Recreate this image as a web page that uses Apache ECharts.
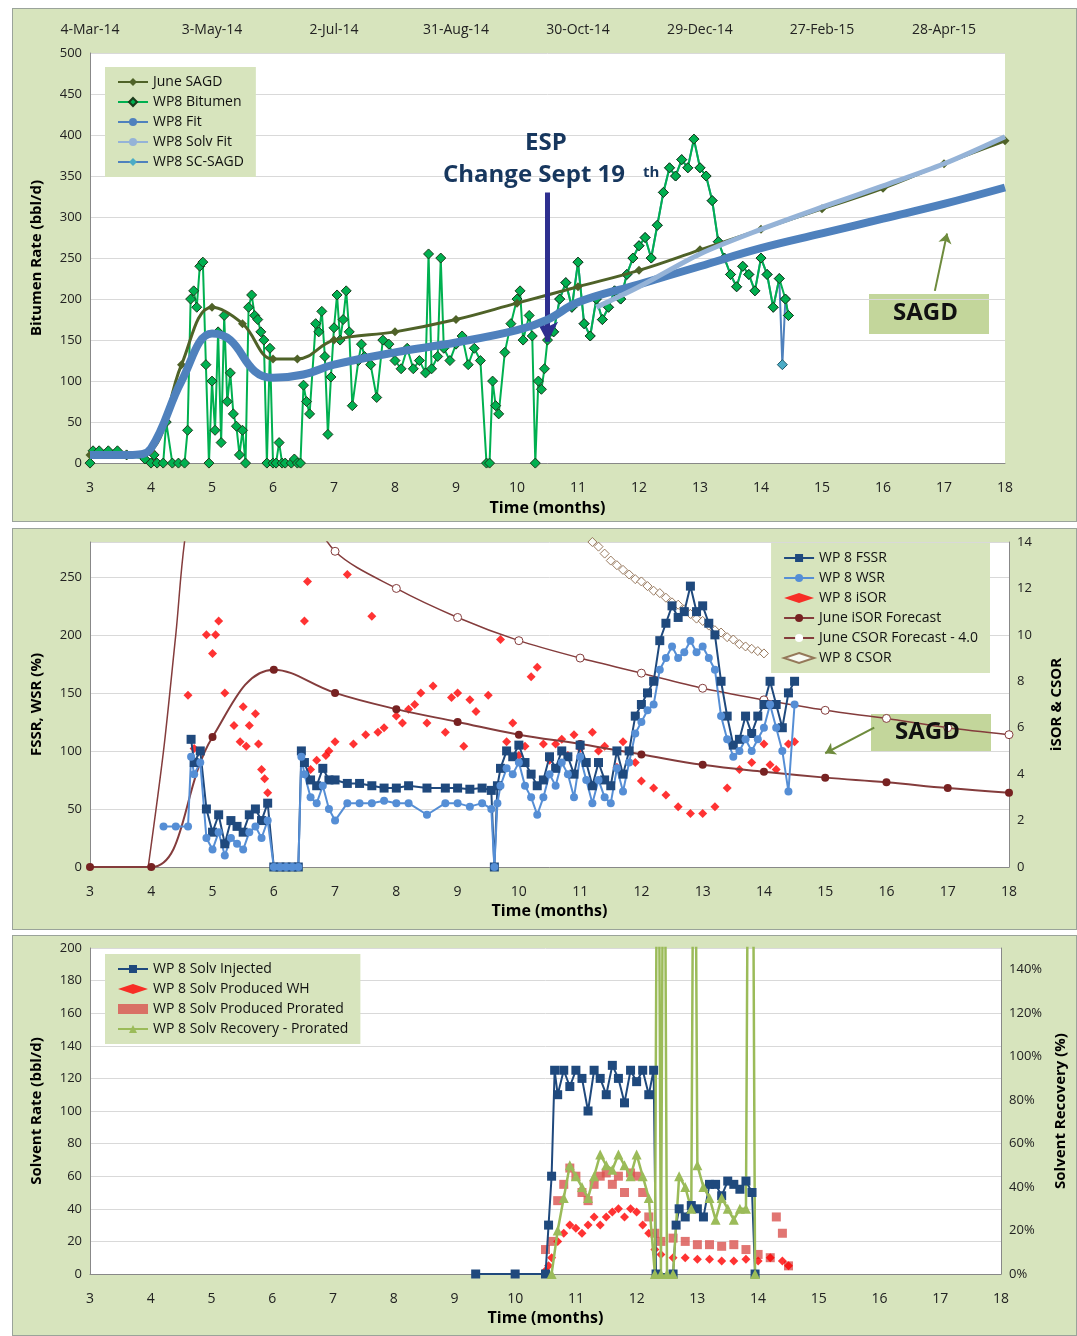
<!DOCTYPE html>
<html lang="en">
<head>
<meta charset="UTF-8">
<title>WP8</title>
<script src="https://cdn.jsdelivr.net/npm/echarts@6/dist/echarts.min.js"></script>
<style>
body{margin:0;background:#fff;width:1077px;height:1336px;position:relative;overflow:hidden;font-family:"Open Sans",Arial,sans-serif}
.p{position:absolute;left:12px;width:1065px;background:#d7e4bd;border:1px solid #9aa39a;box-sizing:border-box}
</style>
</head>
<body>
<div id="c1" class="p" style="top:8px;height:514px"></div>
<div id="c2" class="p" style="top:528px;height:402px"></div>
<div id="c3" class="p" style="top:935px;height:401px"></div>
<script>
var topDates = {3:'4-Mar-14',5:'3-May-14',7:'2-Jul-14',9:'31-Aug-14',11:'30-Oct-14',13:'29-Dec-14',15:'27-Feb-15',17:'28-Apr-15'};

// ---- panel 1 ----
var juneSagd = [[3,10],[3.6,10],[4,15],[4.5,120],[5,190],[5.5,170],[6,127],[6.4,127],[7,150],[8,160],[9,175],[10,195],[11,215],[12,235],[13,260],[14,285],[15,310],[16,335],[17,365],[18,393]];
var wp8Fit = [[3,10],[3.7,10],[4,18],[4.5,100],[5,158],[5.3,150],[5.7,112],[6,104],[6.5,108],[7,120],[8,135],[9,147],[10,162],[10.5,175],[11,196],[12,218],[13,240],[14,262],[15,280],[16,298],[17,316],[18,336]];
var wp8SolvFit = [[11.3,190],[12,215],[13,255],[14,285],[15,312],[16,338],[17,365],[18,398]];
var wp8Bitumen = [[3,0],[3.05,15],[3.15,15],[3.3,15],[3.45,15],[3.6,10],[3.9,5],[4,0],[4.05,10],[4.1,0],[4.2,0],[4.25,50],[4.35,0],[4.45,0],[4.55,0],[4.6,40],[4.65,200],[4.7,210],[4.75,190],[4.8,240],[4.85,245],[4.9,120],[4.95,0],[5,100],[5.05,40],[5.1,160],[5.15,25],[5.2,180],[5.25,75],[5.3,110],[5.35,60],[5.4,45],[5.45,10],[5.5,40],[5.55,0],[5.6,190],[5.65,205],[5.7,180],[5.75,175],[5.8,160],[5.85,150],[5.9,0],[5.95,140],[6,0],[6.05,0],[6.1,25],[6.15,0],[6.2,0],[6.3,0],[6.35,5],[6.4,0],[6.45,0],[6.5,95],[6.55,75],[6.6,60],[6.7,170],[6.75,160],[6.8,185],[6.85,130],[6.9,35],[6.95,105],[7,165],[7.05,205],[7.1,150],[7.15,175],[7.2,210],[7.25,160],[7.3,70],[7.4,125],[7.45,145],[7.5,130],[7.6,120],[7.7,80],[7.8,150],[7.9,145],[8,125],[8.1,115],[8.2,140],[8.3,115],[8.4,125],[8.5,110],[8.55,255],[8.6,115],[8.7,130],[8.75,250],[8.8,140],[8.9,125],[9,145],[9.1,155],[9.2,120],[9.3,140],[9.4,125],[9.5,0],[9.55,0],[9.6,100],[9.65,70],[9.7,60],[9.8,135],[9.9,170],[10,200],[10.05,210],[10.1,150],[10.2,180],[10.25,155],[10.3,0],[10.35,100],[10.4,90],[10.45,115],[10.5,150]];
var wp8ScSagd = [[10.6,160],[10.7,200],[10.8,220],[10.9,190],[11,245],[11.1,170],[11.2,155],[11.3,200],[11.4,175],[11.5,190],[11.6,210],[11.7,200],[11.8,230],[11.9,250],[12,265],[12.1,275],[12.2,250],[12.3,290],[12.4,330],[12.5,360],[12.6,350],[12.7,370],[12.8,360],[12.9,395],[13,360],[13.1,350],[13.2,320],[13.3,270],[13.4,250],[13.5,230],[13.6,215],[13.7,240],[13.8,230],[13.9,210],[14,250],[14.1,230],[14.2,190],[14.3,225],[14.35,120],[14.4,200],[14.45,180]];

// ---- panel 2 ----
var fssr = [[4.65,110],[4.7,90],[4.8,100],[4.9,50],[5,30],[5.1,45],[5.2,20],[5.3,40],[5.4,35],[5.5,30],[5.6,45],[5.7,50],[5.8,40],[5.9,55],[6,0],[6.1,0],[6.2,0],[6.3,0],[6.4,0],[6.45,100],[6.5,90],[6.6,75],[6.7,70],[6.8,85],[6.9,75],[7,75],[7.2,72],[7.4,72],[7.6,70],[7.8,68],[8,68],[8.2,70],[8.5,68],[8.8,68],[9,68],[9.2,67],[9.4,68],[9.55,66],[9.6,0],[9.65,70],[9.7,85],[9.8,100],[9.9,95],[10,105],[10.1,90],[10.2,80],[10.3,70],[10.4,75],[10.5,95],[10.6,85],[10.7,100],[10.8,95],[10.9,80],[11,105],[11.1,90],[11.2,70],[11.3,90],[11.4,75],[11.5,70],[11.6,100],[11.7,80],[11.8,100],[11.9,130],[12,140],[12.1,150],[12.2,160],[12.3,195],[12.4,210],[12.5,225],[12.6,215],[12.7,220],[12.8,242],[12.9,220],[13,225],[13.1,210],[13.2,200],[13.3,160],[13.4,130],[13.5,105],[13.6,110],[13.7,130],[13.8,115],[13.9,130],[14,140],[14.1,160],[14.2,140],[14.3,120],[14.4,150],[14.5,160]];
var wsr = [[4.2,35],[4.4,35],[4.6,35],[4.65,95],[4.7,80],[4.8,90],[4.9,25],[5,15],[5.1,30],[5.2,10],[5.3,25],[5.4,20],[5.5,15],[5.6,30],[5.7,35],[5.8,25],[5.9,40],[6,0],[6.1,0],[6.2,0],[6.3,0],[6.4,0],[6.45,95],[6.5,80],[6.6,60],[6.7,55],[6.8,70],[6.9,50],[7,40],[7.2,55],[7.4,55],[7.6,55],[7.8,57],[8,55],[8.2,55],[8.5,45],[8.8,55],[9,55],[9.2,52],[9.4,55],[9.55,50],[9.6,0],[9.65,55],[9.7,70],[9.8,85],[9.9,80],[10,90],[10.1,70],[10.2,60],[10.3,45],[10.4,60],[10.5,80],[10.6,70],[10.7,90],[10.8,80],[10.9,60],[11,95],[11.1,75],[11.2,55],[11.3,75],[11.4,60],[11.5,55],[11.6,85],[11.7,65],[11.8,90],[11.9,115],[12,125],[12.1,135],[12.2,140],[12.3,170],[12.4,180],[12.5,190],[12.6,180],[12.7,185],[12.8,195],[12.9,185],[13,190],[13.1,180],[13.2,170],[13.3,130],[13.4,110],[13.5,95],[13.6,100],[13.7,110],[13.8,100],[13.9,110],[14,120],[14.1,140],[14.2,120],[14.3,100],[14.4,65],[14.5,140]];
var isor = [[4.6,7.4],[4.7,5.1],[4.9,10],[5,9.2],[5.05,10],[5.1,10.6],[5.2,7.5],[5.35,6.1],[5.45,5.4],[5.5,6.9],[5.55,5.2],[5.6,6.1],[5.7,6.6],[5.75,5.3],[5.8,4.2],[5.85,3.8],[5.9,3.2],[6.1,0],[6.5,10.6],[6.55,12.3],[6.6,4.2],[6.7,4.6],[6.85,4.8],[6.9,5],[7,5.4],[7.2,12.6],[7.3,5.3],[7.5,5.7],[7.6,10.8],[7.7,5.8],[7.8,6],[8,6.5],[8.1,6.2],[8.2,6.8],[8.3,7],[8.4,7.5],[8.5,6.2],[8.6,7.8],[8.8,5.8],[8.9,7.3],[9,7.5],[9.1,5.2],[9.2,7.2],[9.3,6.7],[9.5,7.4],[9.7,9.8],[9.8,5.4],[9.9,6.2],[10,4.8],[10.1,5.2],[10.2,8.2],[10.3,8.6],[10.4,5.3],[10.5,4.6],[10.6,5.3],[10.7,5.5],[10.8,4.8],[10.9,5.7],[11,5.1],[11.2,5.8],[11.3,5],[11.4,5.2],[11.6,4.3],[11.7,5.4],[11.8,5],[11.9,4.5],[12,3.7],[12.2,3.4],[12.4,3.1],[12.6,2.6],[12.8,2.3],[13,2.3],[13.2,2.6],[13.4,3.4],[13.6,4.2],[13.8,4.5],[14,5.3],[14.1,4.4],[14.2,4.2],[14.4,5.3],[14.5,5.4]];
var juneIsor = [[3,0],[4,0],[5,5.6],[6,8.5],[7,7.5],[8,6.8],[9,6.25],[10,5.7],[11,5.3],[12,4.85],[13,4.4],[14,4.1],[15,3.85],[16,3.65],[17,3.4],[18,3.2]];
var juneCsor = [[3.95,0],[4.2,5],[4.4,10],[4.6,15],[5.5,25],[6.5,16],[7,13.6],[8,12],[9,10.75],[10,9.75],[11,9],[12,8.35],[13,7.7],[14,7.2],[15,6.75],[16,6.4],[17,6],[18,5.7]];
var wp8Csor = [[11.2,14],[11.3,13.8],[11.4,13.5],[11.5,13.2],[11.6,13],[11.7,12.8],[11.8,12.6],[11.9,12.4],[12,12.3],[12.1,12.1],[12.2,11.9],[12.3,11.8],[12.4,11.6],[12.5,11.4],[12.6,11.3],[12.7,11.1],[12.8,10.9],[12.9,10.7],[13,10.6],[13.1,10.4],[13.2,10.2],[13.3,10.1],[13.4,9.9],[13.5,9.8],[13.6,9.6],[13.7,9.5],[13.8,9.4],[13.9,9.3],[14,9.2]];

// ---- panel 3 ----
var solvInj = [[9.35,0],[10,0],[10.5,0],[10.55,30],[10.6,60],[10.65,125],[10.7,110],[10.8,125],[10.9,115],[11,125],[11.1,120],[11.2,100],[11.3,125],[11.4,120],[11.5,110],[11.6,128],[11.7,120],[11.8,105],[11.9,125],[12,118],[12.1,125],[12.2,110],[12.28,125],[12.32,0],[12.6,0],[12.65,30],[12.7,40],[12.8,35],[12.9,42],[13,40],[13.1,35],[13.2,55],[13.3,55],[13.4,48],[13.5,57],[13.6,55],[13.7,52],[13.8,57],[13.9,50],[13.95,0]];
var solvWh = [[10.5,2],[10.55,5],[10.6,10],[10.7,20],[10.8,25],[10.9,30],[11,28],[11.1,25],[11.2,30],[11.3,35],[11.4,30],[11.5,35],[11.6,38],[11.7,40],[11.8,35],[11.9,40],[12,38],[12.1,30],[12.2,25],[12.3,15],[12.4,12],[12.6,10],[12.8,10],[13,9],[13.2,9],[13.4,8],[13.6,8],[13.8,9],[14,8],[14.2,10],[14.4,8],[14.5,5]];
var solvPro = [[10.5,15],[10.6,20],[10.7,45],[10.8,55],[10.9,65],[11,60],[11.1,50],[11.2,45],[11.3,55],[11.4,60],[11.5,62],[11.6,55],[11.7,60],[11.8,50],[11.9,62],[12,60],[12.1,50],[12.2,35],[12.3,25],[12.4,20],[12.6,22],[12.8,20],[13,18],[13.2,18],[13.4,17],[13.6,18],[13.8,15],[14,12],[14.2,10],[14.3,35],[14.4,25],[14.5,5]];
var solvRec = [[10.6,0],[10.7,20],[10.8,35],[10.9,50],[11,45],[11.1,40],[11.2,35],[11.3,45],[11.4,55],[11.5,50],[11.6,48],[11.7,55],[11.8,50],[11.9,45],[12,55],[12.1,45],[12.2,35],[12.3,0],[12.35,300],[12.4,0],[12.45,300],[12.5,0],[12.6,0],[12.7,45],[12.8,40],[12.9,30],[12.95,300],[13,50],[13.1,40],[13.2,35],[13.3,25],[13.4,35],[13.5,30],[13.6,25],[13.7,30],[13.8,30],[13.85,300],[13.9,300],[13.95,0]];

var grey = '#d9d9d9';
var ff = '"Open Sans", sans-serif';
function xAxisBottom() {
    return {type:'value',min:3,max:18,interval:1,position:'bottom',
        name:'Time (months)',nameLocation:'middle',nameGap:34,nameTextStyle:{fontSize:16,fontWeight:'bold',color:'#000'},
        axisLine:{onZero:false,lineStyle:{color:'#888'}},axisTick:{show:false},splitLine:{show:false},
        axisLabel:{fontSize:14,color:'#222',margin:18}};
}
function yAx(name, min, max, interval, pos, fmt) {
    return {type:'value',min:min,max:max,interval:interval,position:pos,
        name:name,nameLocation:'middle',nameGap:pos=='left'?46:40,nameRotate:90,
        nameTextStyle:{fontSize:15,fontWeight:'bold',color:'#000'},
        axisLine:{show:true,lineStyle:{color:'#888'}},axisTick:{show:false},
        splitLine:{show:pos=='left',lineStyle:{color:grey}},
        axisLabel:{fontSize:13,color:'#222',formatter:fmt,showMaxLabel:max%interval==0}};
}
var legendBase = {orient:'vertical',backgroundColor:'#d7e4bd',padding:[8,12],itemGap:6,textStyle:{fontSize:14,color:'#111'},itemWidth:30,itemHeight:10};
function note(x, y, txt, size, fill) {
    return {type:'text',left:x,top:y,z:100,style:{text:txt,fontFamily:ff,fontSize:size,fontWeight:'bold',fill:fill}};
}

// chart 1
var c1 = echarts.init(document.getElementById('c1'));
c1.setOption({
    animation:false,backgroundColor:'#d7e4bd',textStyle:{fontFamily:ff},
    grid:{left:77,right:71,top:44,bottom:54,backgroundColor:'#fff',show:true,borderWidth:0},
    xAxis:[xAxisBottom(),{type:'value',min:3,max:18,interval:2,position:'top',axisLine:{show:false},axisTick:{show:false},splitLine:{show:false},
        axisLabel:{fontSize:14,color:'#222',margin:16,formatter:function(v){return topDates[v]||'';}}}],
    yAxis:yAx('Bitumen Rate (bbl/d)',0,500,50,'left'),
    legend:Object.assign({left:92,top:58,data:['June SAGD','WP8 Bitumen','WP8 Fit','WP8 Solv Fit','WP8 SC-SAGD'],itemGap:10},legendBase),
    graphic:[
        note(512,122,'ESP',24,'#17375e'),
        note(430,154,'Change Sept 19',24,'#17375e'),
        note(630,156,'th',15,'#17375e'),
        {type:'rect',left:856,top:285,shape:{width:120,height:40},style:{fill:'#c3d69b'}},
        note(880,292,'SAGD',24,'#111')
    ],
    series:[
        {name:'WP8 SC-SAGD',type:'line',data:wp8ScSagd,symbol:'diamond',symbolSize:10,itemStyle:{color:'#4bacc6',borderColor:'#205867'},lineStyle:{color:'#4f81bd',width:2},z:2},
        {name:'WP8 Bitumen',type:'line',data:wp8Bitumen.concat(wp8ScSagd.filter(function(p){return p[1]>150;})),symbol:'diamond',symbolSize:10,
            itemStyle:{color:'#00b050',borderColor:'#1b3b1b',borderWidth:1},lineStyle:{color:'#00b050',width:2},z:3},
        {name:'June SAGD',type:'line',data:juneSagd,symbol:'diamond',symbolSize:9,smooth:0.4,itemStyle:{color:'#4f6228'},lineStyle:{color:'#4f6228',width:3},z:4},
        {name:'WP8 Fit',type:'line',data:wp8Fit,symbol:'none',smooth:0.4,itemStyle:{color:'#4f81bd'},lineStyle:{color:'#4f81bd',width:8},z:5,
            markLine:{silent:true,symbol:['none','arrow'],symbolSize:[16,20],label:{show:false},lineStyle:{color:'#2e2f8f',width:5,type:'solid'},
                data:[[{coord:[10.5,330]},{coord:[10.5,148]}]]}},
        {name:'WP8 Solv Fit',type:'line',data:wp8SolvFit,symbol:'none',smooth:0.3,itemStyle:{color:'#95b3d7'},lineStyle:{color:'#95b3d7',width:5},z:6,
            markLine:{silent:true,symbol:['none','arrow'],symbolSize:10,label:{show:false},lineStyle:{color:'#6e8b3d',width:2,type:'solid'},
                data:[[{coord:[16.85,210]},{coord:[17.05,280]}]]}}
    ]
});

// chart 2
var c2 = echarts.init(document.getElementById('c2'));
c2.setOption({
    animation:false,backgroundColor:'#d7e4bd',textStyle:{fontFamily:ff},
    grid:{left:77,right:67,top:13,bottom:62,backgroundColor:'#fff',show:true,borderWidth:0},
    xAxis:xAxisBottom(),
    yAxis:[yAx('FSSR, WSR (%)',0,280,50,'left'),yAx('iSOR & CSOR',0,14,2,'right')],
    legend:Object.assign({right:86,top:14,itemGap:3,data:['WP 8 FSSR','WP 8 WSR','WP 8 iSOR','June iSOR Forecast','June CSOR Forecast - 4.0','WP 8 CSOR']},legendBase),
    graphic:[
        {type:'rect',left:858,top:185,shape:{width:120,height:38},style:{fill:'#c3d69b'}},
        note(882,191,'SAGD',24,'#111')
    ],
    series:[
        {name:'June CSOR Forecast - 4.0',type:'line',yAxisIndex:1,data:juneCsor.map(function(p){return p[0]<6.9?{value:p,symbol:'none'}:p;}),smooth:0.3,symbol:'circle',symbolSize:8,
            itemStyle:{color:'#fff',borderColor:'#843c3c'},lineStyle:{color:'#843c3c',width:1.5}},
        {name:'June iSOR Forecast',type:'line',yAxisIndex:1,data:juneIsor,smooth:0.4,symbol:'circle',symbolSize:8,
            itemStyle:{color:'#772222'},lineStyle:{color:'#843c3c',width:2},
            markLine:{silent:true,symbol:['none','arrow'],symbolSize:10,label:{show:false},lineStyle:{color:'#6e8b3d',width:2,type:'solid'},
                data:[[{coord:[15.8,6]},{coord:[15,4.9]}]]}},
        {name:'WP 8 CSOR',type:'scatter',yAxisIndex:1,data:wp8Csor,symbol:'diamond',symbolSize:9,itemStyle:{color:'#fff',borderColor:'#7f5a3a',borderWidth:1}},
        {name:'WP 8 FSSR',type:'line',data:fssr,symbol:'rect',symbolSize:9,itemStyle:{color:'#1f497d'},lineStyle:{color:'#1f497d',width:2}},
        {name:'WP 8 WSR',type:'line',data:wsr,symbol:'circle',symbolSize:8,itemStyle:{color:'#558ed5'},lineStyle:{color:'#558ed5',width:2}},
        {name:'WP 8 iSOR',type:'scatter',yAxisIndex:1,data:isor,symbol:'diamond',symbolSize:9,itemStyle:{color:'#ff0000'}}
    ]
});

// chart 3
var c3 = echarts.init(document.getElementById('c3'));
c3.setOption({
    animation:false,backgroundColor:'#d7e4bd',textStyle:{fontFamily:ff},
    grid:{left:77,right:71,top:12,bottom:61,backgroundColor:'#fff',show:true,borderWidth:0},
    xAxis:xAxisBottom(),
    yAxis:[yAx('Solvent Rate (bbl/d)',0,200,20,'left'),yAx('Solvent Recovery (%)',0,150,20,'right',function(v){return v+'%';})],
    legend:Object.assign({left:92,top:18,itemGap:4,data:['WP 8 Solv Injected','WP 8 Solv Produced WH','WP 8 Solv Produced Prorated','WP 8 Solv Recovery - Prorated']},legendBase),
    series:[
        {name:'WP 8 Solv Injected',type:'line',data:solvInj,symbol:'rect',symbolSize:9,itemStyle:{color:'#1f497d'},lineStyle:{color:'#1f497d',width:2}},
        {name:'WP 8 Solv Recovery - Prorated',type:'line',yAxisIndex:1,data:solvRec,symbol:'triangle',symbolSize:10,itemStyle:{color:'#9bbb59'},lineStyle:{color:'#9bbb59',width:2.5}},
        {name:'WP 8 Solv Produced Prorated',type:'scatter',data:solvPro,symbol:'rect',symbolSize:9,itemStyle:{color:'#d9534f'}},
        {name:'WP 8 Solv Produced WH',type:'scatter',data:solvWh,symbol:'diamond',symbolSize:9,itemStyle:{color:'#ff0000'}}
    ]
});
</script>
</body>
</html>
